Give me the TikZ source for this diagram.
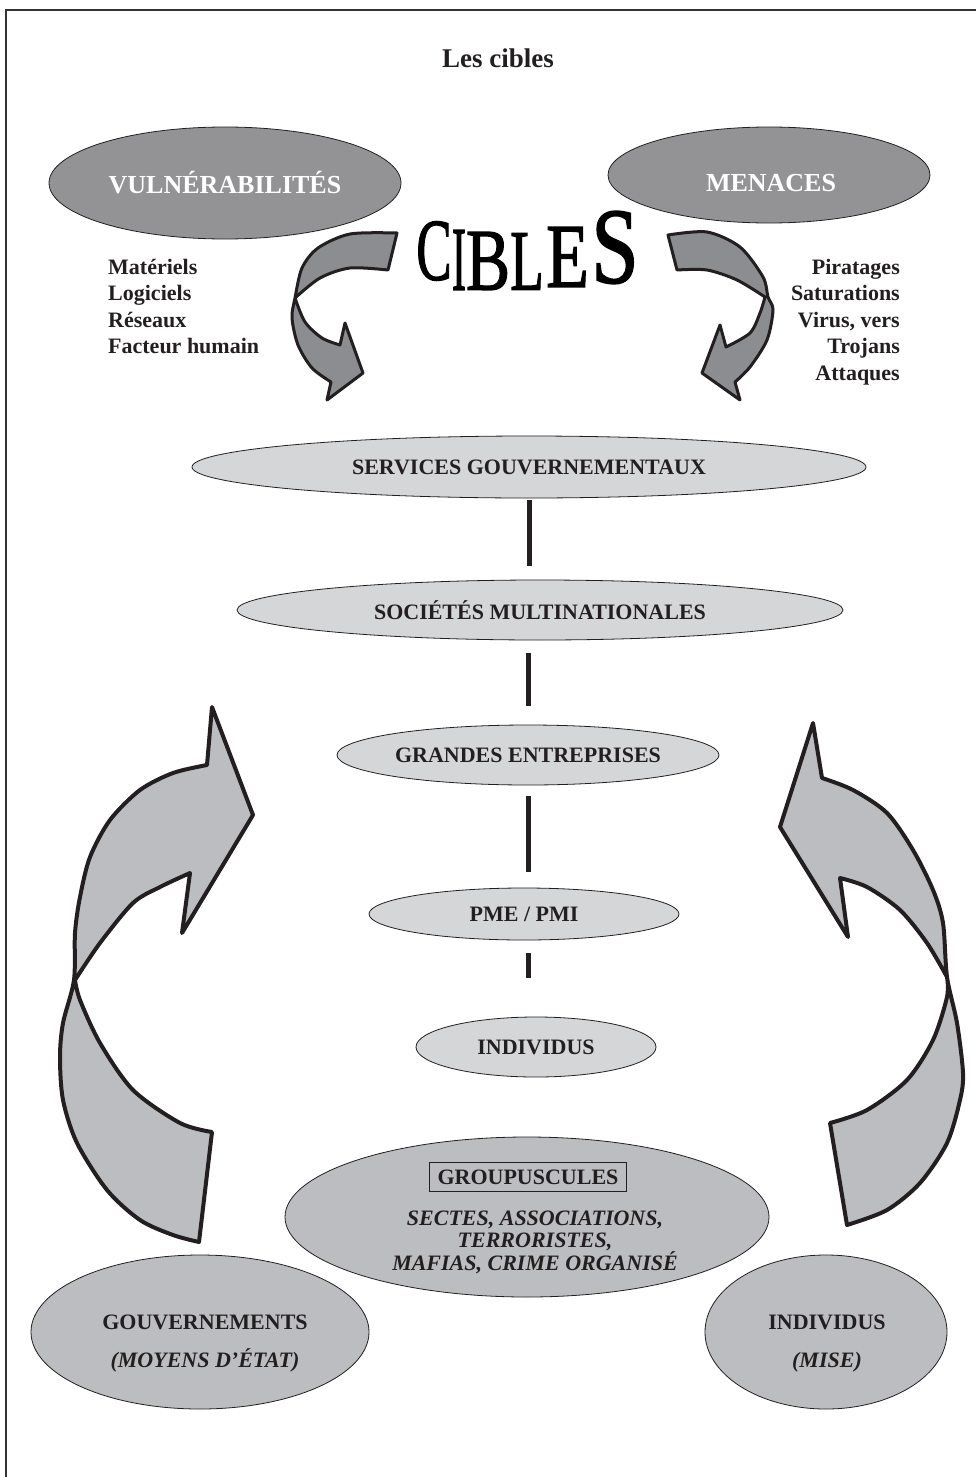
\documentclass[tikz,border=0pt]{standalone}
\usepackage{fontspec}
\setmainfont{Liberation Serif}
\newfontfamily\ciblesfont[FakeBold=1.6]{Liberation Serif}
\usetikzlibrary{shapes.geometric}

\definecolor{darkfill}{HTML}{939396}
\definecolor{arrowdark}{HTML}{8C8D90}
\definecolor{midfill}{HTML}{BCBDC0}
\definecolor{lightfill}{HTML}{D5D6D8}
\definecolor{ink}{HTML}{231F20}

\tikzset{
  oval/.style={ellipse,draw=ink,line width=0.8pt,inner sep=0pt,text=ink,
    font=\fontsize{22}{26}\selectfont\bfseries},
  topoval/.style={oval,fill=darkfill,text=white,font=\fontsize{26}{30}\selectfont\bfseries},
  cibleoval/.style={oval,fill=lightfill},
  srcoval/.style={oval,fill=midfill},
  txt/.style={inner sep=0pt,text=ink,font=\fontsize{22}{26}\selectfont\bfseries},
  listtxt/.style={txt,font=\fontsize{22}{26.5}\selectfont\bfseries},
  ribbon/.style={draw=ink,line width=3pt,line join=round},
  bigribbon/.style={draw=ink,line width=4pt,line join=round,fill=midfill},
  link/.style={draw=ink,line width=5pt},
  letter/.style={inner sep=0pt,text=black,font=\ciblesfont\fontsize{100}{100}\selectfont}
}

\begin{document}
\begin{tikzpicture}[x=1pt,y=-1pt]
\useasboundingbox (0,0) rectangle (976,1477);
% cadre
\draw[line width=1.5pt,black!80] (976,10) -- (6,10) -- (6,1477);

\node[txt,font=\fontsize{27}{30}\selectfont\bfseries] (titre) at (498,58) {Les cibles};

% vulnerabilites / menaces
\node[topoval,minimum width=352,minimum height=112] (vuln) at (225,183) {VULNÉRABILITÉS};
\node[topoval,minimum width=322,minimum height=96] (menaces) at (769,175) {};
\node[txt,text=white,font=\fontsize{26}{30}\selectfont\bfseries] (menacestxt) at (771,183) {MENACES};

\node[listtxt,anchor=north west,align=left] (vulnlist) at (108,259) {Matériels\\Logiciels\\Réseaux\\Facteur humain};
\node[listtxt,anchor=north east,align=right] (menlist) at (900,259) {Piratages\\Saturations\\Virus, vers\\Trojans\\Attaques};

% le mot CIBLES
\node[letter] (l1) at (434,251) {\scalebox{0.53}[0.88]{C}};
\node[letter] (l2) at (459,260) {\scalebox{0.42}[0.91]{I}};
\node[letter] (l3) at (488,261) {\scalebox{0.66}[0.88]{B}};
\node[letter] (l4) at (527,261.5) {\scalebox{0.55}[0.86]{L}};
\node[letter] (l5) at (567.5,257) {\scalebox{0.7}[0.91]{E}};
\node[letter] (l6) at (615,247.5) {\scalebox{0.85}[1.08]{S}};

% petites fleches
\filldraw[ribbon,fill=arrowdark]
  plot[smooth] coordinates {(331,382) (312,368) (298,345) (292,318) (295,298) (302,268) (318,248) (350,234) (397,233)}
  -- (388,270)
  -- plot[smooth] coordinates {(388,270) (350,268) (320,278) (295,298)}
  -- plot[smooth] coordinates {(295,298) (305,322) (322,338) (340,345)}
  -- (345,323) -- (363,373) -- (327,400) -- cycle;
\filldraw[ribbon,fill=arrowdark]
  plot[smooth] coordinates {(735,382) (750,367) (767,340) (773,310) (768,297) (763,277) (740,247) (707,232) (668,235)}
  -- (677,270)
  -- plot[smooth] coordinates {(677,270) (707,270) (737,280) (765,297)}
  -- plot[smooth] coordinates {(765,297) (760,313) (750,333) (726,347)}
  -- (720,325) -- (702,373) -- (740,400) -- cycle;

% cibles
\node[cibleoval,minimum width=674,minimum height=62] (svc) at (529,467) {SERVICES GOUVERNEMENTAUX};
\node[cibleoval,minimum width=606,minimum height=60] (soc) at (540,610) {SOCIÉTÉS MULTINATIONALES};
\node[cibleoval,minimum width=382,minimum height=60] (grandes) at (528,755) {GRANDES ENTREPRISES};
\node[cibleoval,minimum width=310,minimum height=52] (pme) at (524,914) {PME / PMI};
\node[cibleoval,minimum width=240,minimum height=60] (indiv) at (536,1047) {INDIVIDUS};

\draw[link,shorten <=2pt,shorten >=14pt] (svc.south) -- (svc.south |- soc.north);
\draw[link,shorten <=13pt,shorten >=19pt] (grandes.north |- soc.south) -- (grandes.north);
\draw[link,shorten <=11pt,shorten >=16pt] (grandes.south) -- (grandes.south |- pme.north);
\draw[link,shorten <=13pt,shorten >=39pt] (grandes.south |- pme.south) -- (grandes.south |- indiv.north);

% grandes fleches
\filldraw[bigribbon]
  plot[smooth] coordinates {(199,1242) (173,1235) (140,1220) (107,1190) (77,1143) (63,1100) (60,1057) (63,1023) (74,980) (75,933) (80,897) (90,857) (110,820) (140,790) (173,773) (207,765)}
  -- (212,707) -- (253,815) -- (182,933) -- (190,873)
  -- plot[smooth] coordinates {(190,873) (160,887) (133,903) (100,943) (75,980)}
  -- plot[smooth] coordinates {(75,980) (80,1000) (100,1043) (133,1090) (180,1123) (212,1132)}
  -- cycle;
\filldraw[bigribbon]
  plot[smooth] coordinates {(847,1225) (887,1210) (920,1183) (947,1143) (960,1100) (963,1073) (957,1023) (947,977) (943,923) (933,890) (913,850) (887,813) (853,790) (822,778)}
  -- (813,723) -- (780,827) -- (848,937) -- (840,878)
  -- plot[smooth] coordinates {(840,878) (867,887) (900,910) (927,943) (947,977)}
  -- plot[smooth] coordinates {(947,977) (947,997) (933,1040) (907,1080) (867,1110) (830,1123)}
  -- cycle;

% sources
\node[srcoval,minimum width=484,minimum height=160] (group) at (527,1217) {};
\node[txt,draw=ink,line width=0.8pt,inner xsep=8pt,inner ysep=7pt] (grouptitle) at (528,1177) {GROUPUSCULES};
\node[txt,align=center,font=\fontsize{22}{22.5}\selectfont\bfseries\itshape] (groupnames) at (535,1242)
  {SECTES, ASSOCIATIONS,\\TERRORISTES,\\MAFIAS, CRIME ORGANISÉ};

\node[srcoval,minimum width=338,minimum height=154] (gouv) at (200,1332) {};
\node[txt,align=center] (gouvtxt) at (205,1344) {GOUVERNEMENTS\\[12pt]\textit{(MOYENS D’ÉTAT)}};
\node[srcoval,minimum width=242,minimum height=154] (indsrc) at (826,1332) {};
\node[txt,align=center] (indsrctxt) at (827,1344) {INDIVIDUS\\[12pt]\textit{(MISE)}};
\end{tikzpicture}
\end{document}
